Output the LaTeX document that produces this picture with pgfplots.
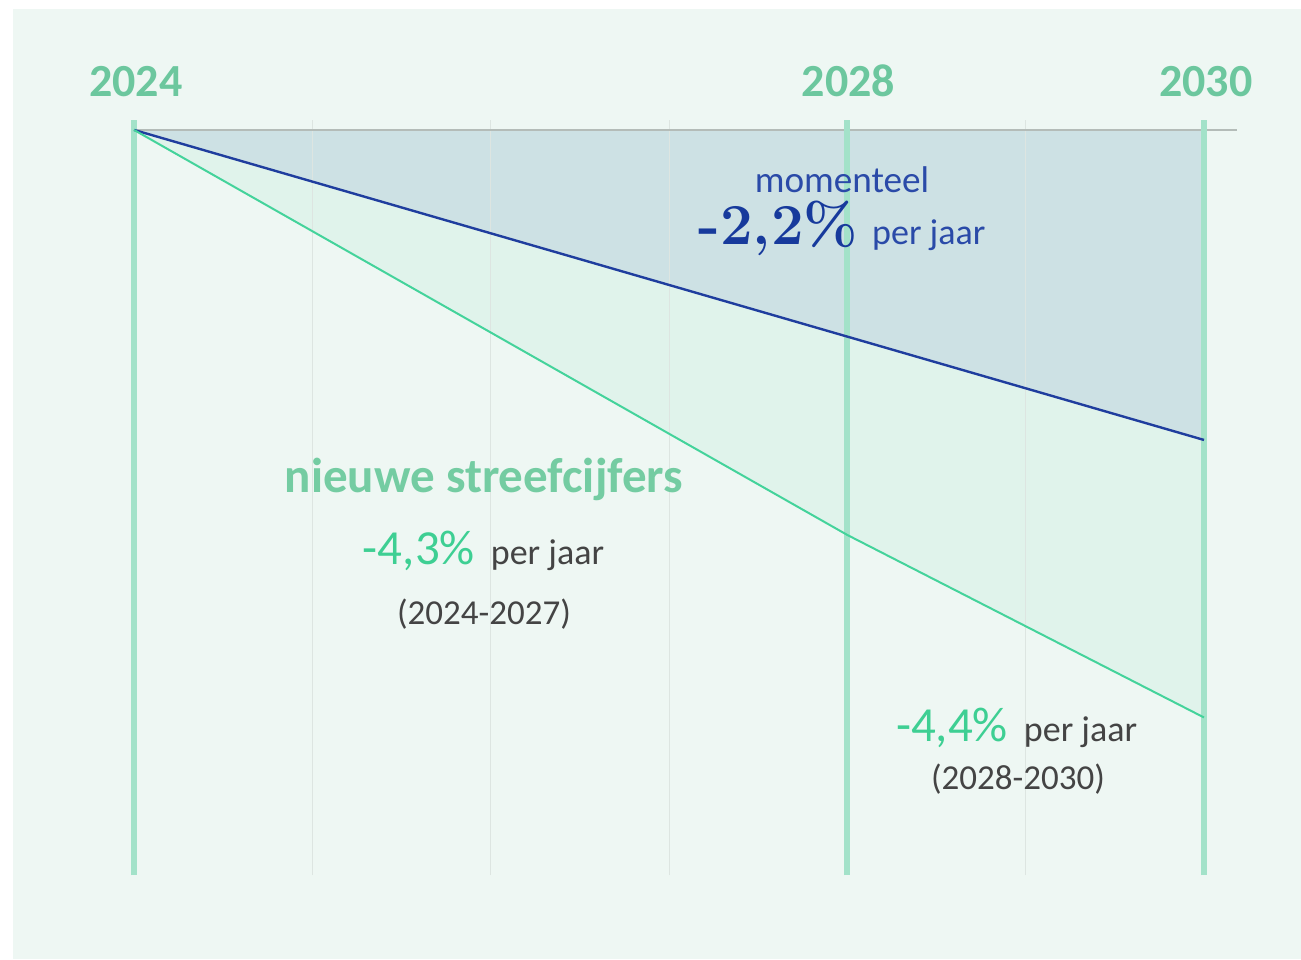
\documentclass[border=0pt]{standalone}
\usepackage{pgfplots}
\pgfplotsset{compat=1.18}
\usepackage{fontspec}
\setsansfont{Carlito}
\renewcommand\familydefault{\sfdefault}
\definecolor{bgmint}{HTML}{EEF7F3}
\definecolor{bluefill}{HTML}{CDE1E4}
\definecolor{greenfill}{HTML}{E0F3EB}
\definecolor{vline}{HTML}{A3E2C9}
\definecolor{yearc}{HTML}{6CC79E}
\definecolor{blueline}{HTML}{1F3D9E}
\definecolor{greenline}{HTML}{44D39B}
\definecolor{nieuwc}{HTML}{74CCA2}
\definecolor{momc}{HTML}{2A4AA8}
\definecolor{pctblue}{HTML}{173A9C}
\definecolor{pctgreen}{HTML}{3ECF93}
\definecolor{graytext}{HTML}{444444}
\definecolor{gridc}{HTML}{DDE5E1}
\definecolor{topline}{HTML}{B4BCB8}
\begin{document}
\begin{tikzpicture}
\fill[white] (-67pt,-42pt) rectangle (583.5pt,437.5pt);
\fill[bgmint] (-60.5pt,-42pt) rectangle (583.5pt,433pt);
\begin{axis}[
  at={(0,0)}, anchor=south west,
  scale only axis, width=535pt, height=372.5pt,
  xmin=2024, xmax=2030, ymin=70.2, ymax=100,
  axis lines=none, clip=false, ticks=none,
]
% fills
\addplot[fill=bluefill, draw=none] coordinates {(2024,100) (2030,100) (2030,87.6)} -- cycle;
\addplot[fill=greenfill, draw=none] coordinates {(2024,100) (2030,87.6) (2030,76.5) (2028,83.8)} -- cycle;
% thin grid lines
\addplot[gridc, line width=0.5pt] coordinates {(2025,70.2) (2025,100.4)};
\addplot[gridc, line width=0.5pt] coordinates {(2026,70.2) (2026,100.4)};
\addplot[gridc, line width=0.5pt] coordinates {(2027,70.2) (2027,100.4)};
\addplot[gridc, line width=0.5pt] coordinates {(2029,70.2) (2029,100.4)};
% top line
\addplot[topline, line width=0.6pt] coordinates {(2024,100) (2030.185,100)};
% thick lines
\addplot[vline, line width=3pt] coordinates {(2024,70.2) (2024,100.4)};
\addplot[vline, line width=3pt] coordinates {(2028,70.2) (2028,100.4)};
\addplot[vline, line width=3pt] coordinates {(2030,70.2) (2030,100.4)};
% series
\addplot[blueline, line width=1.2pt] coordinates {(2024,100) (2030,87.6)};
\addplot[greenline, line width=1pt] coordinates {(2024,100) (2028,83.8) (2030,76.5)};
% year labels
\node[anchor=base, text=yearc, font=\bfseries\fontsize{23}{23}\selectfont] at (axis cs:2024.011,101.32) {2024};
\node[anchor=base, text=yearc, font=\bfseries\fontsize{23}{23}\selectfont] at (axis cs:2028.007,101.32) {2028};
\node[anchor=base, text=yearc, font=\bfseries\fontsize{23}{23}\selectfont] at (axis cs:2030.011,101.32) {2030};
% momenteel
\node[anchor=base, text=momc, font=\fontsize{18.6}{18.6}\selectfont] at (axis cs:2027.97,97.5) {momenteel};
\node[anchor=base, inner sep=0pt] at (axis cs:2027.97,95.4) {{\color{pctblue}\rmfamily\bfseries\fontsize{29}{29}\selectfont -2,2\%}\hspace{7pt}{\color{momc}\fontsize{18}{18}\selectfont per jaar}};
% nieuwe streefcijfers
\node[anchor=base, text=nieuwc, font=\bfseries\fontsize{24.5}{24.5}\selectfont] at (axis cs:2025.963,85.48) {nieuwe streefcijfers};
\node[anchor=base, inner sep=0pt] at (axis cs:2025.96,82.6) {{\color{pctgreen}\fontsize{24.5}{24.5}\selectfont -4,3\%}\hspace{8pt}{\color{graytext}\fontsize{18}{18}\selectfont per jaar}};
\node[anchor=base, text=graytext, font=\fontsize{17.5}{17.5}\selectfont] at (axis cs:2025.963,80.2) {(2024-2027)};
% 2028-2030
\node[anchor=base, inner sep=0pt] at (axis cs:2028.949,75.53) {{\color{pctgreen}\fontsize{24.5}{24.5}\selectfont -4,4\%}\hspace{8pt}{\color{graytext}\fontsize{18}{18}\selectfont per jaar}};
\node[anchor=base, text=graytext, font=\fontsize{17.5}{17.5}\selectfont] at (axis cs:2028.957,73.6) {(2028-2030)};
\end{axis}
\end{tikzpicture}
\end{document}
